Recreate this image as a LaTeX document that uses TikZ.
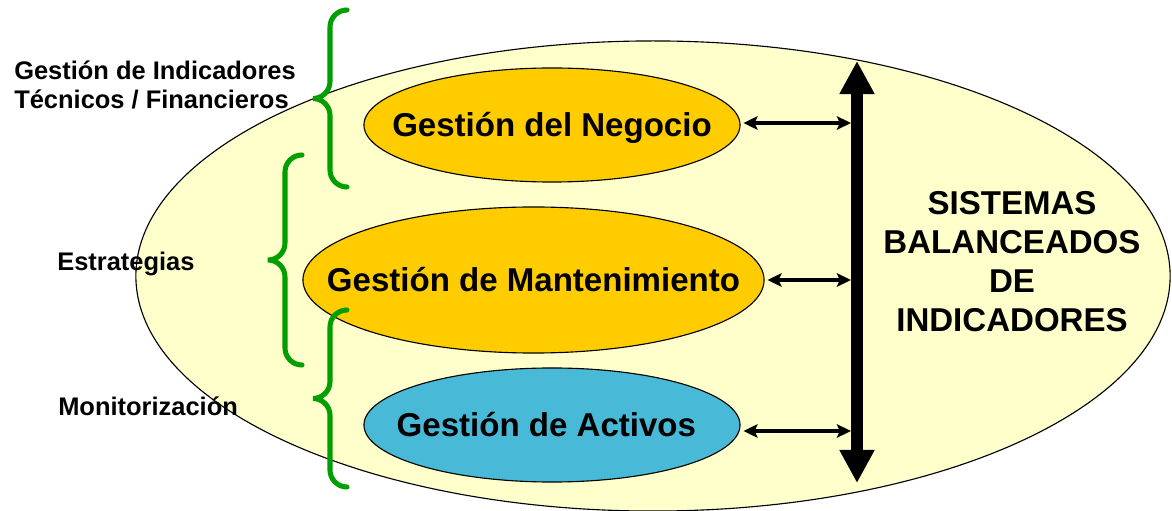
\documentclass[tikz,border=0pt]{standalone}
\usepackage{fontspec}
\setmainfont{Liberation Sans}
\usetikzlibrary{shapes.geometric,arrows.meta}

\definecolor{crema}{RGB}{255,255,204}
\definecolor{oro}{RGB}{255,204,0}
\definecolor{celeste}{RGB}{72,185,214}
\definecolor{verde}{RGB}{0,158,0}

\tikzset{
  gestion/.style={ellipse, draw, line width=0.8pt, inner sep=0pt},
  texto/.style={inner sep=0pt, font=\fontsize{23.5}{27.7}\selectfont\bfseries, text height=16.8pt, text depth=0pt},
  etiqueta/.style={anchor=base west, inner sep=0pt, font=\fontsize{18.1}{21}\selectfont\bfseries},
  llave/.style={draw=verde, line width=3.6pt, line cap=round},
  flecha/.style={line width=2.6pt, {Stealth[length=10pt,width=9.5pt,inset=2pt]}-{Stealth[length=10pt,width=9.5pt,inset=2pt]}},
  flechagrande/.style={line width=8.5pt, {Triangle[length=23.5pt,width=23.5pt]}-{Triangle[length=23.5pt,width=23.5pt]}}
}

% llave: punta x, arriba, abajo
\newcommand{\llave}[3]{%
  \draw[llave] ({#1+34},#2) to[out=180,in=90] ({#1+17},{#2+17}) -- ({#1+17},{(#2+#3)/2-17})
    to[out=-90,in=0] (#1,{(#2+#3)/2}) to[out=0,in=90] ({#1+17},{(#2+#3)/2+17})
    -- ({#1+17},{#3-17}) to[out=-90,in=180] ({#1+34},#3);}

\begin{document}
\begin{tikzpicture}[x=0.025cm, y=-0.025cm]
  \useasboundingbox (0,0) rectangle (1172,511);

  \node[gestion, fill=crema, minimum width=25.85cm, minimum height=11.75cm] (marco) at (653,276) {};

  \node[gestion, fill=oro, minimum width=9.4cm, minimum height=2.85cm] (negocio) at (552,125) {};
  \node[gestion, fill=oro, minimum width=11.525cm, minimum height=3.65cm] (mant) at (533.5,280) {};
  \node[gestion, fill=celeste, minimum width=9.4cm, minimum height=2.85cm] (activos) at (552,425) {};
  \node[texto] (tnegocio) at (negocio) {Gestión del Negocio};
  \node[texto] (tmant) at (mant) {Gestión de Mantenimiento};
  \node[texto] (tactivos) at ([xshift=-0.14cm]activos) {Gestión de Activos};

  \node[font=\fontsize{23.5}{27.7}\selectfont\bfseries, align=center, inner sep=0pt] (sbi) at (1012,262)
    {SISTEMAS\\BALANCEADOS\\DE\\INDICADORES};

  \coordinate (arriba) at (857,61);
  \coordinate (abajo) at (857,483);
  \coordinate (eje) at (851,0);
  \draw[flechagrande] (arriba) -- (abajo);

  \draw[flecha, shorten <=2pt] ([yshift=0.05cm]negocio.east) -- ([yshift=0.05cm]negocio.east -| eje);
  \draw[flecha, shorten <=2pt] (mant.east) -- (mant.east -| eje);
  \draw[flecha, shorten <=2pt] ([yshift=-0.15cm]activos.east) -- ([yshift=-0.15cm]activos.east -| eje);

  \llave{313}{10}{187}
  \llave{268}{155}{365}
  \llave{313}{310}{487}

  \node[etiqueta] (indic1) at (14,80) {Gestión de Indicadores};
  \node[etiqueta] (indic2) at (14,109) {Técnicos / Financieros};
  \node[etiqueta] (estrat) at (57,271) {Estrategias};
  \node[etiqueta] (monit) at (58,415) {Monitorización};
\end{tikzpicture}
\end{document}
